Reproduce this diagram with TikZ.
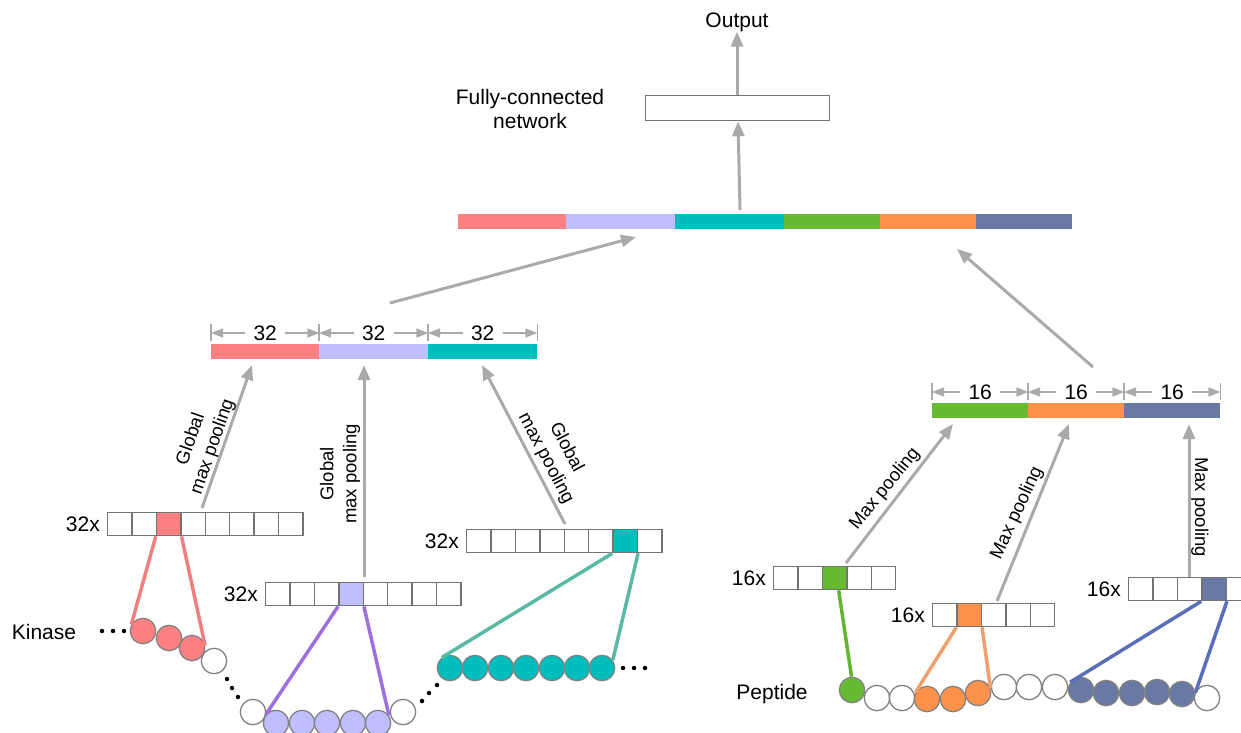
\documentclass[tikz,border=0pt]{standalone}
\usepackage{fontspec}
\setmainfont{Liberation Sans}
\usetikzlibrary{arrows.meta,calc}
\definecolor{cpink}{RGB}{255,128,128}
\definecolor{clav}{RGB}{191,191,255}
\definecolor{cteal}{RGB}{0,190,190}
\definecolor{cgreen}{RGB}{102,187,51}
\definecolor{corange}{RGB}{255,146,74}
\definecolor{cslate}{RGB}{104,121,163}
\definecolor{agray}{RGB}{170,170,170}
\definecolor{bgray}{RGB}{115,115,115}
\definecolor{ogray}{RGB}{130,130,130}
\definecolor{lpink}{RGB}{240,128,128}
\definecolor{lpurple}{RGB}{158,112,222}
\definecolor{lteal}{RGB}{90,185,165}
\definecolor{lgreen}{RGB}{100,180,50}
\definecolor{lorange}{RGB}{240,160,110}
\definecolor{lblue}{RGB}{90,110,185}
\begin{document}
\begin{tikzpicture}[x=1pt,y=-1pt,
  lbl/.style={font=\fontsize{21}{24}\selectfont, inner sep=0pt},
  rlbl/.style={font=\fontsize{18.5}{23}\selectfont, inner sep=0pt, align=center},
  flow/.style={draw=agray, line width=3pt, -{Triangle[length=15pt,width=12pt]}},
  dimar/.style={draw=agray, line width=1.6pt, -{Triangle[length=12pt,width=9pt]}},
  dimtick/.style={draw=agray, line width=1.4pt},
  dimlbl/.style={font=\fontsize{21}{24}\selectfont, inner xsep=8pt, inner ysep=0pt},
  seg/.style={minimum height=15pt, inner sep=0pt, anchor=north west},
  cell/.style={draw=bgray, line width=1.3pt, minimum width=24.4pt, minimum height=23pt, inner sep=0pt, anchor=north west},
  res/.style={circle, draw=ogray, line width=1.3pt, minimum size=25.4pt, inner sep=0pt, fill=white},
  link/.style={line width=3.5pt},
  dot/.style={circle, fill=black, minimum size=4.5pt, inner sep=0pt}]
\useasboundingbox (0,0) rectangle (1241,732);
\clip (0,0) rectangle (1241,732);

% ---- top ----
\node[lbl] (out) at (737,22) {Output};
\node[draw=bgray, line width=1.3pt, minimum width=184pt, minimum height=25pt, inner sep=0pt, anchor=north west] (fc) at (645,95) {};
\node[lbl, align=center] (fctxt) at (530,109) {Fully-connected\\network};

% concat bar
\node[seg, fill=cpink,   minimum width=108pt] (cb1) at (458,214) {};
\node[seg, fill=clav,    minimum width=109pt] (cb2) at (566,214) {};
\node[seg, fill=cteal,   minimum width=109pt] (cb3) at (675,214) {};
\node[seg, fill=cgreen,  minimum width=96pt]  (cb4) at (784,214) {};
\node[seg, fill=corange, minimum width=96pt]  (cb5) at (880,214) {};
\node[seg, fill=cslate,  minimum width=96pt]  (cb6) at (976,214) {};

\coordinate (fcin) at (740,210);
\draw[flow] (fcin) -- (fc.south -| 738,0);
\draw[flow] (fc.north -| out) -- (out.south);

% left bar
\node[seg, fill=cpink, minimum width=108pt] (lb1) at (211,344) {};
\node[seg, fill=clav,  minimum width=109pt] (lb2) at (319,344) {};
\node[seg, fill=cteal, minimum width=109pt] (lb3) at (428,344) {};
% right bar
\node[seg, fill=cgreen,  minimum width=96pt] (rb1) at (932,403) {};
\node[seg, fill=corange, minimum width=96pt] (rb2) at (1028,403) {};
\node[seg, fill=cslate,  minimum width=96pt] (rb3) at (1124,403) {};

\coordinate (lcs) at (390,303);
\coordinate (lct) at (636,237);
\coordinate (rcs) at (1093,367);
\coordinate (rct) at (957,249);
\draw[flow] (lcs) -- (lct);
\draw[flow] (rcs) -- (rct);

% dimension marks
\foreach \b/\t in {lb1/32,lb2/32,lb3/32,rb1/16,rb2/16,rb3/16}{
  \node[dimlbl] (d\b) at ($(\b.north)+(0,-11)$) {\t};
  \draw[dimar] (d\b.west) -- (d\b.west -| \b.west);
  \draw[dimar] (d\b.east) -- (d\b.east -| \b.east);
  \draw[dimtick] ($(\b.north west)+(0,-20)$) -- ($(\b.north west)+(0,-3)$);
  \draw[dimtick] ($(\b.north east)+(0,-20)$) -- ($(\b.north east)+(0,-3)$);
}

% ---- kinase feature rows ----
\foreach \i in {0,...,7}{
  \node[cell] (ra\i) at ({107+24.4*\i},512) {};
  \node[cell] (rb\i) at ({265+24.4*\i},582) {};
  \node[cell] (rc\i) at ({466+24.4*\i},529) {};
}
\node[cell, fill=cpink] at (ra2.north west) {};
\node[cell, fill=clav]  at (rb3.north west) {};
\node[cell, fill=cteal] at (rc6.north west) {};
\node[lbl, anchor=east] (la) at ($(ra0.west)+(-7,0)$) {32x};
\node[lbl, anchor=east] (lb) at ($(rb0.west)+(-7,0)$) {32x};
\node[lbl, anchor=east] (lc) at ($(rc0.west)+(-7,0)$) {32x};

% ---- peptide feature rows ----
\foreach \i in {0,...,4}{
  \node[cell] (pa\i) at ({773+24.4*\i},566) {};
  \node[cell] (pb\i) at ({932+24.4*\i},603) {};
  \node[cell] (pc\i) at ({1128+24.4*\i},577) {};
}
\node[cell, fill=cgreen]  at (pa2.north west) {};
\node[cell, fill=corange] at (pb1.north west) {};
\node[cell, fill=cslate]  at (pc3.north west) {};
\node[lbl, anchor=east] (lpa) at ($(pa0.west)+(-7,0)$) {16x};
\node[lbl, anchor=east] (lpb) at ($(pb0.west)+(-7,0)$) {16x};
\node[lbl, anchor=east] (lpc) at ($(pc0.west)+(-7,0)$) {16x};

% ---- pooling arrows (left) ----
\coordinate (g1s) at (202,508); \coordinate (g1t) at (252,365);
\coordinate (g2s) at (364,577); \coordinate (g2t) at (364,365);
\coordinate (g3s) at (565,524); \coordinate (g3t) at (482,365);
\draw[flow] (g1s) -- (g1t);
\draw[flow] (g2s) -- (g2t);
\draw[flow] (g3s) -- (g3t);
\node[rlbl, rotate=70.7] (g1l) at (202,443) {Global\\max pooling};
\node[rlbl, rotate=90]   (g2l) at (340,474) {Global\\max pooling};
\node[rlbl, rotate=-62.4] (g3l) at (556,453) {Global\\max pooling};

% ---- pooling arrows (right) ----
\coordinate (m1s) at (846,563); \coordinate (m1t) at (953,424);
\coordinate (m2s) at (997,601); \coordinate (m2t) at (1069,424);
\coordinate (m3s) at (1189,577); \coordinate (m3t) at (1189,424);
\draw[flow] (m1s) -- (m1t);
\draw[flow] (m2s) -- (m2t);
\draw[flow] (m3s) -- (m3t);
\node[rlbl, rotate=51]  (m1l) at (885,489) {Max pooling};
\node[rlbl, rotate=65]  (m2l) at (1017,513) {Max pooling};
\node[rlbl, rotate=-90] (m3l) at (1200,507) {Max pooling};

% ---- kinase chain ----
\node[lbl] (kin) at (44,632) {Kinase};
\foreach \n/\x/\y in {a/102/631,b/113/631,c/124/631,d/227/679,e/232/688,f/238/697,g/422/701,h/429/693,i/437/685,j/623/668,k/634/668,l/645/668}
  \node[dot] (kd\n) at (\x,\y) {};
\node[res, fill=cpink] (k1) at (143,631) {};
\node[res, fill=cpink] (k2) at (169,638) {};
\node[res, fill=cpink] (k3) at (192,648) {};
\node[res] (k4) at (214,661) {};
\node[res] (k5) at (253,712) {};
\foreach \i/\x in {1/276,2/302,3/327,4/353,5/378}
  \node[res, fill=clav] (v\i) at (\x,723) {};
\node[res] (k6) at (403,712) {};
\foreach \i/\x in {1/450,2/475,3/501,4/526,5/552,6/577,7/602}
  \node[res, fill=cteal] (t\i) at (\x,668) {};

\draw[link, lpink] (ra2.south west) -- (k1.151);
\draw[link, lpink] (ra2.south east) -- (k3.10);
\draw[link, lpurple] (rb3.south west) -- (v1.138);
\draw[link, lpurple] (rb3.south east) -- (v5.35);
\draw[link, lteal] (rc6.south west) -- (t1.129);
\draw[link, lteal] (rc6.south east) -- (t7.36);

% ---- peptide chain ----
\node[lbl] (pep) at (772,694) {Peptide};
\node[res, fill=cgreen] (p1) at (852,690) {};
\node[res] (p2) at (877,698) {};
\node[res] (p3) at (902,698) {};
\node[res, fill=corange] (p4) at (927,699) {};
\node[res, fill=corange] (p5) at (953,699) {};
\node[res, fill=corange] (p6) at (978,693) {};
\node[res] (p7) at (1004,687) {};
\node[res] (p8) at (1029,687) {};
\node[res] (p9) at (1055,687) {};
\node[res, fill=cslate] (p10) at (1081,690) {};
\node[res, fill=cslate] (p11) at (1106,693) {};
\node[res, fill=cslate] (p12) at (1132,693) {};
\node[res, fill=cslate] (p13) at (1157,692) {};
\node[res, fill=cslate] (p14) at (1182,694) {};
\node[res] (p15) at (1207,698) {};

\coordinate (gs) at ($(pa2.south)+(4,0)$);
\draw[link, lgreen] (gs) -- (p1.92);
\draw[link, lorange] (pb1.south west) -- (p4.149);
\draw[link, lorange] (pb1.south east) -- (p6.21);
\draw[link, lblue] (pc3.south west) -- (p10.144);
\draw[link, lblue] (pc3.south east) -- (p14.5);
\end{tikzpicture}
\end{document}
